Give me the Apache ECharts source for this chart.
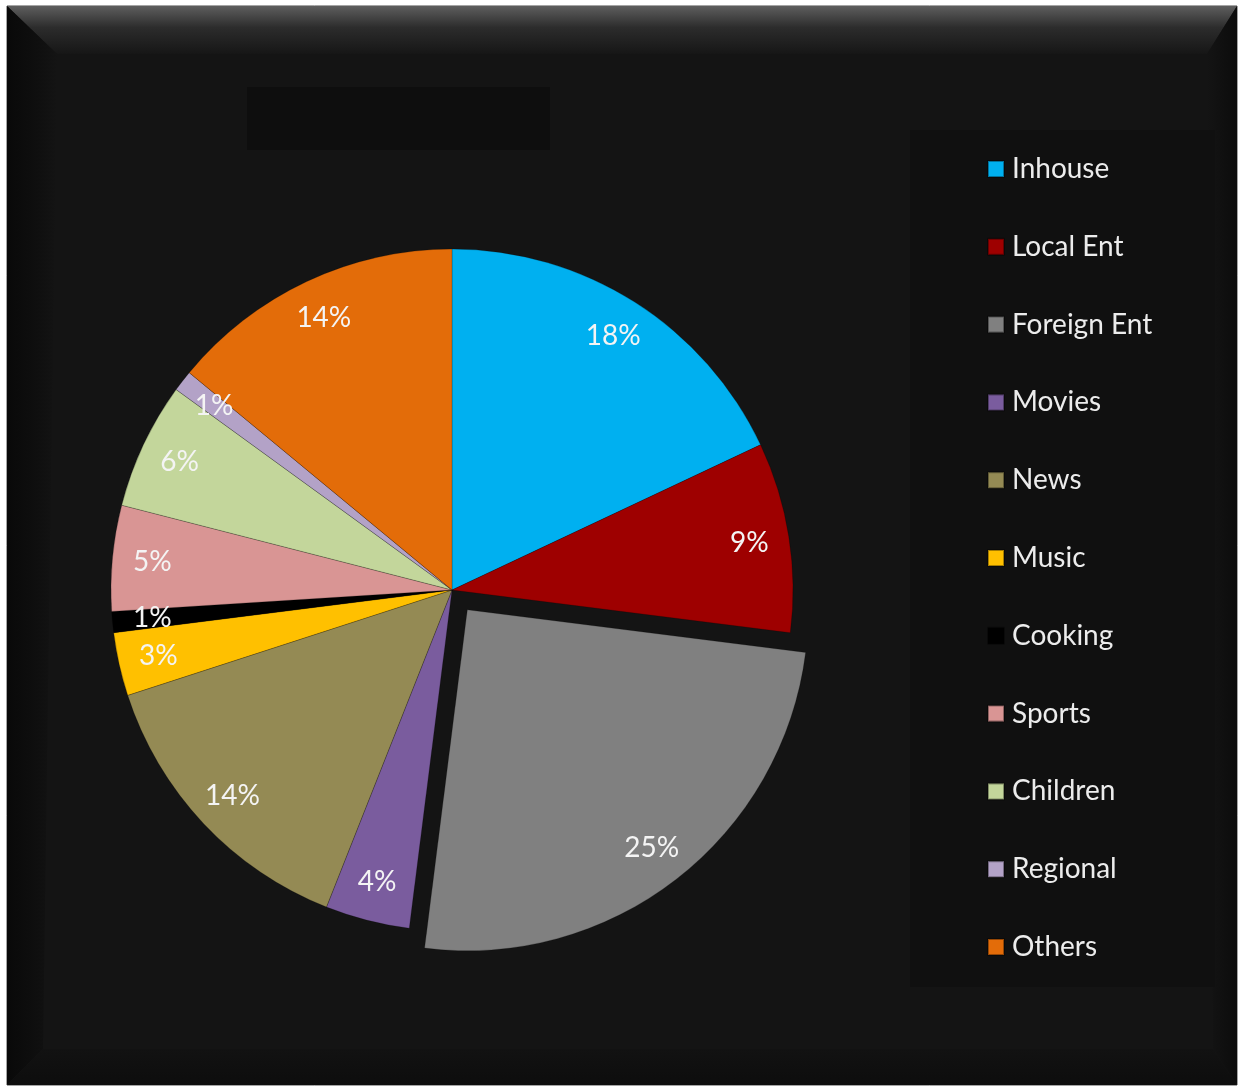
<!DOCTYPE html>
<html>
<head>
<meta charset="utf-8">
<title>Programme mix</title>
<script src="https://cdn.jsdelivr.net/npm/echarts@6/dist/echarts.min.js"></script>
<style>
  html, body { margin: 0; padding: 0; background: #ffffff; }
  #chart { width: 1242px; height: 1089px; }
</style>
</head>
<body>
<div id="chart"></div>
<script>
// Share of programming by genre (percent)
const categories = ['Inhouse', 'Local Ent', 'Foreign Ent', 'Movies', 'News', 'Music',
                    'Cooking', 'Sports', 'Children', 'Regional', 'Others'];
const shares = [18, 9, 25, 4, 14, 3, 1, 5, 6, 1, 14];
const sliceColors = ['#00B0F0', '#9E0000', '#808080', '#7A5C9E', '#948A54', '#FFC000',
                     '#000000', '#D99594', '#C3D69B', '#B3A2C7', '#E36C09'];
const explodedCategory = 'Foreign Ent';

const FONT = 'Lato, "Open Sans", sans-serif';
const CENTER = [452, 590];
const RADIUS = 341;
const OFFSET = 25;

const pieData = categories.map((name, i) => ({
  name: name,
  value: shares[i],
  selected: name === explodedCategory,
  itemStyle: { color: sliceColors[i] }
}));

// Bevelled dark frame around the whole chart
const L = 7, T = 6, R = 1237, B = 1085;
const frame = [
  { type: 'rect', z: -20, silent: true,
    shape: { x: L, y: T, width: R - L, height: B - T },
    style: { fill: '#141414', stroke: '#4a4a4a', lineWidth: 1 } },
  // top bevel (lit)
  { type: 'polygon', z: -19, silent: true,
    shape: { points: [[L, T], [R, T], [R - 30, T + 48], [L + 50, T + 48]] },
    style: { fill: new echarts.graphic.LinearGradient(0, 0, 0, 1, [
      { offset: 0, color: '#5e5e5e' }, { offset: 0.45, color: '#2c2c2c' }, { offset: 1, color: '#161616' }]) } },
  // left bevel (shadowed)
  { type: 'polygon', z: -19, silent: true,
    shape: { points: [[L, T], [L + 50, T + 48], [L + 36, B - 36], [L, B]] },
    style: { fill: new echarts.graphic.LinearGradient(0, 0, 1, 0, [
      { offset: 0, color: '#090909' }, { offset: 0.6, color: '#0f0f0f' }, { offset: 1, color: '#141414' }]) } },
  // right bevel
  { type: 'polygon', z: -19, silent: true,
    shape: { points: [[R, T], [R, B], [R - 24, B - 36], [R - 30, T + 48]] },
    style: { fill: new echarts.graphic.LinearGradient(0, 0, 1, 0, [
      { offset: 0, color: '#141414' }, { offset: 1, color: '#0c0c0c' }]) } },
  // bottom bevel
  { type: 'polygon', z: -19, silent: true,
    shape: { points: [[L, B], [L + 36, B - 36], [R - 24, B - 36], [R, B]] },
    style: { fill: new echarts.graphic.LinearGradient(0, 0, 0, 1, [
      { offset: 0, color: '#121212' }, { offset: 1, color: '#0d0d0d' }]) } },
  // empty title box
  { type: 'rect', z: -18, silent: true,
    shape: { x: 247, y: 87, width: 303, height: 63 },
    style: { fill: '#0e0e0e' } },
  // legend panel
  { type: 'rect', z: -18, silent: true,
    shape: { x: 910, y: 130, width: 305, height: 857 },
    style: { fill: '#101010' } }
];

const chart = echarts.init(document.getElementById('chart'), null, { renderer: 'canvas' });

chart.setOption({
  backgroundColor: '#ffffff',
  animation: false,
  graphic: frame,
  legend: {
    orient: 'vertical',
    left: 982,
    top: 149,
    data: categories,
    icon: 'rect',
    itemWidth: 16,
    itemHeight: 16,
    itemGap: 47.8,
    selectedMode: false,
    textStyle: { color: '#ececec', fontFamily: FONT, fontSize: 28, lineHeight: 30, padding: [0, 0, 0, 3] }
  },
  series: [
    {
      // the slices themselves
      type: 'pie',
      center: CENTER,
      radius: [0, RADIUS],
      startAngle: 90,
      clockwise: true,
      selectedMode: 'single',
      selectedOffset: OFFSET,
      emphasis: { disabled: true },
      label: { show: false },
      labelLine: { show: false },
      itemStyle: { borderColor: 'rgba(0,0,0,0.35)', borderWidth: 0.6 },
      data: pieData
    },
    {
      // ring that carries the percentage labels near the rim
      type: 'pie',
      center: CENTER,
      radius: [255, RADIUS],
      startAngle: 90,
      clockwise: true,
      silent: true,
      selectedMode: 'single',
      selectedOffset: OFFSET,
      emphasis: { disabled: true },
      itemStyle: { color: 'rgba(0,0,0,0)', borderWidth: 0 },
      labelLine: { show: false },
      label: {
        show: true,
        position: 'inside',
        color: '#f4f4f4',
        fontFamily: FONT,
        fontSize: 28,
        formatter: p => Math.round(p.percent) + '%'
      },
      data: categories.map((name, i) => ({
        name: name,
        value: shares[i],
        selected: name === explodedCategory
      }))
    }
  ]
});
</script>
</body>
</html>
